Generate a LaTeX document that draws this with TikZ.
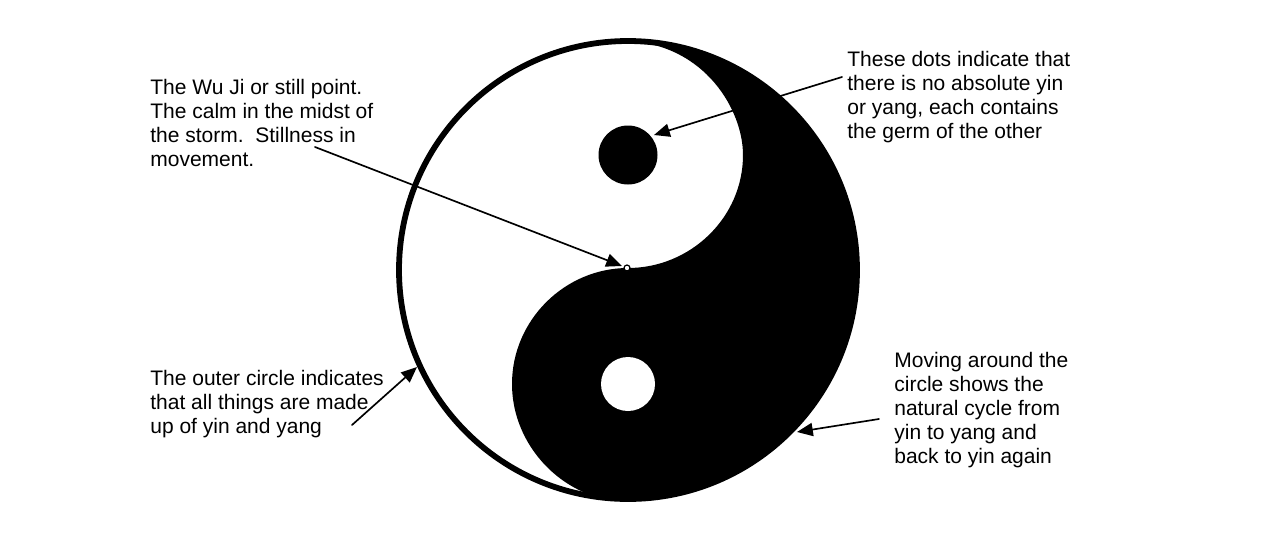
\documentclass[tikz,border=0pt]{standalone}
\usepackage{fontspec}
\setmainfont{Liberation Sans}
\usetikzlibrary{arrows.meta}
\tikzset{
    note/.style={anchor=north west, align=left, inner sep=0pt, font=\fontsize{11.95}{13.66}\selectfont},
    pointer/.style={line width=0.95pt, -{Triangle[length=9pt, width=7.5pt]}}
}

\begin{document}
\begin{tikzpicture}[x=0.02cm, y=-0.02cm, line join=round, line cap=round]
    \useasboundingbox (0,0) rectangle (1269,538);

    % outer circle
    \coordinate (O) at (628,270);
    \draw[line width=3.3pt, black] (O) circle [radius=229];

    % black half, with the S curve through the middle
    \fill[black] (628,40) .. controls (755,40) and (858,143) .. (858,270)
        .. controls (858,397) and (755,500) .. (628,500)
        .. controls (610,500) and (592,497) .. (577,489)
        .. controls (540,470) and (512,430) .. (512,384)
        .. controls (512,320) and (565,268) .. (628,268)
        .. controls (690,268) and (743,218) .. (743,155)
        .. controls (743,110) and (705,45) .. (628,41) -- cycle;

    % the two dots and the still point
    \fill[black] (628,155) circle [radius=29.5];
    \fill[white] (628,384) circle [radius=27];
    \draw[black, line width=0.7pt, fill=white] (627,268) circle [radius=3];

    % texts
    \node[note] (wuji) at (150,79) {The Wu Ji or still point.\\The calm in the midst of\\the storm.\ \ Stillness in\\movement.};
    \node[note] (dots) at (847,51) {These dots indicate that\\there is no absolute yin\\or yang, each contains\\the germ of the other};
    \node[note] (outer) at (150,370) {The outer circle indicates\\that all things are made\\up of yin and yang};
    \node[note] (cycle) at (894,352) {Moving around the\\circle shows the\\natural cycle from\\yin to yang and\\back to yin again};

    % pointers
    \coordinate (A1) at (315,147);
    \coordinate (A2) at (622,266);
    \coordinate (B1) at (842,77);
    \coordinate (B2) at (654,135);
    \coordinate (C1) at (352,425);
    \coordinate (C2) at (417,367);
    \coordinate (D1) at (879,419);
    \coordinate (D2) at (797,432);
    \draw[pointer] (A1) -- (A2);
    \draw[pointer] (B1) -- (B2);
    \draw[pointer] (C1) -- (C2);
    \draw[pointer] (D1) -- (D2);
\end{tikzpicture}
\end{document}
